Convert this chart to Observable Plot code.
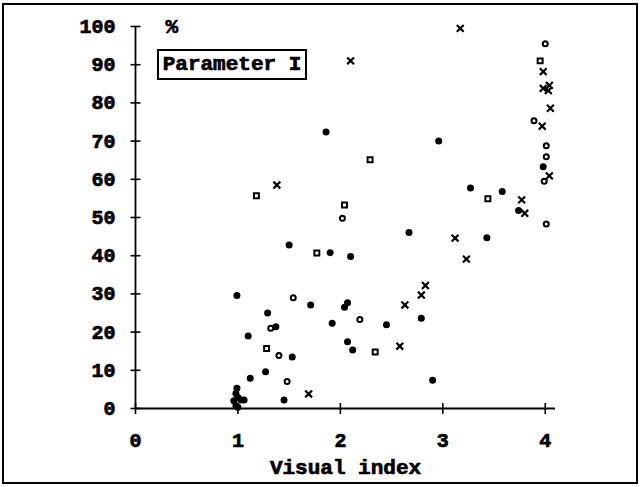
<!DOCTYPE html>
<html>
<head>
<meta charset="utf-8">
<script src="https://cdn.jsdelivr.net/npm/d3@7"></script>
<script src="https://cdn.jsdelivr.net/npm/@observablehq/plot@0.6"></script>
<style>
  html, body { margin: 0; padding: 0; background: #fff; }
  #wrap { position: relative; width: 641px; height: 487px; overflow: hidden; }
  #frame { position: absolute; left: 2px; top: 3px; width: 636px; height: 481px; border: 2px solid #000; box-sizing: border-box; pointer-events: none; }
  #param { position: absolute; left: 157px; top: 49px; width: 150px; height: 31px; border: 2px solid #000; box-sizing: border-box;
           font: bold 21px "Liberation Mono", "DejaVu Sans Mono", monospace; line-height: 27px; text-align: center; white-space: nowrap;
           -webkit-text-stroke: 0.7px #000; }
  #chart svg text { stroke: #000; stroke-width: 0.7px; }
</style>
</head>
<body>
<div id="wrap"><div id="chart"></div><div id="param">Parameter I</div><div id="frame"></div></div>
<script>
// Filled circles
const filledX = [0.99,1.10,1.12,1.29,1.27,1.37,1.50,1.53,1.45,1.71,1.86,1.90,1.92,2.10,2.07,2.04,2.07,2.12,2.45,2.67,2.79,2.90,2.96,3.27,3.43,3.58,3.74,3.98,
                 0.99,0.98,1.03,1.06,0.96,1.00,0.98,1.00];
const filledY = [29.6,19.0,7.9,25.0,9.6,21.4,42.8,13.5,2.2,27.1,72.4,40.8,22.3,39.8,27.7,26.5,17.5,15.3,21.9,46.1,23.6,7.4,70.0,57.7,44.7,56.8,51.8,63.3,
                 5.3,3.9,2.2,2.2,2.0,2.9,0.7,0.3];
// Open circles
const openX = [1.32,1.40,1.54,1.48,2.02,2.19,3.89,4.00,4.01,4.01,3.99,4.01];
const openY = [21.0,13.9,29.0,7.1,49.8,23.3,75.3,95.5,68.8,65.9,59.5,48.3];
// Open squares
const squareX = [1.18,1.28,1.77,2.04,2.29,2.34,3.44,3.95];
const squareY = [55.7,15.7,40.7,53.3,65.1,14.8,54.9,91.0];
// Crosses
const crossX = [1.38,2.10,1.69,3.17,2.58,2.63,2.79,2.83,3.12,3.23,3.77,3.80,3.98,3.98,4.04,4.03,4.05,3.97,4.04];
const crossY = [58.5,91.0,3.8,99.5,16.3,27.1,29.7,32.2,44.6,39.1,54.6,51.1,88.2,83.8,84.6,83.2,78.6,73.9,60.9];

const xTicks = [0,1,2,3,4];
const yTicks = [0,10,20,30,40,50,60,70,80,90,100];
const xDomain = [0, 4.1];
const yDomain = [0, 100];

const pts = (xs, ys) => xs.map((x, i) => ({x, y: ys[i]}));
const filled = pts(filledX, filledY);
const open = pts(openX, openY);
const squares = pts(squareX, squareY);
const crosses = pts(crossX, crossY);

const hTick = {draw(ctx, size) { const r = Math.sqrt(size / Math.PI); ctx.moveTo(-r, 0); ctx.lineTo(r, 0); }};
const vTick = {draw(ctx, size) { const r = Math.sqrt(size / Math.PI); ctx.moveTo(0, -r); ctx.lineTo(0, r); }};

const chart = Plot.plot({
  width: 641,
  height: 487,
  marginLeft: 135,
  marginRight: 86,
  marginTop: 26,
  marginBottom: 79,
  style: {fontFamily: "'Liberation Mono', 'DejaVu Sans Mono', monospace", fontWeight: "bold", fontSize: "20px", color: "#000", background: "#fff"},
  x: {domain: xDomain},
  y: {domain: yDomain},
  marks: [
    Plot.ruleY([0], {x1: xDomain[0], x2: xDomain[1], stroke: "#000", strokeWidth: 1.8}),
    Plot.ruleX([0], {y1: yDomain[0], y2: yDomain[1], stroke: "#000", strokeWidth: 1.8}),
    Plot.dot(yTicks, {x: 0, y: d => d, symbol: hTick, r: 5, stroke: "#000", strokeWidth: 1.6, fill: "none"}),
    Plot.dot(xTicks, {x: d => d, y: 0, symbol: vTick, r: 5.5, stroke: "#000", strokeWidth: 1.6, fill: "none"}),
    Plot.axisX({ticks: xTicks, tickSize: 0, tickPadding: 24, tickFormat: d => String(d), label: null, fontSize: 20}),
    Plot.axisY({ticks: yTicks, tickSize: 0, tickPadding: 20, tickFormat: d => String(d), label: null, fontSize: 20}),
    Plot.text(["Visual index"], {frameAnchor: "bottom", dy: 59, lineAnchor: "middle", text: d => d, fontSize: 21, fontWeight: "bold"}),
    Plot.text(["%"], {frameAnchor: "top-left", dx: 30, dy: 0, lineAnchor: "middle", text: d => d, fontSize: 21, fontWeight: "bold"}),
    Plot.dot(filled, {x: "x", y: "y", r: 3.5, fill: "#000", stroke: "none"}),
    Plot.dot(open, {x: "x", y: "y", r: 2.5, fill: "#fff", stroke: "#000", strokeWidth: 2}),
    Plot.dot(squares, {x: "x", y: "y", symbol: "square", r: 2.8, fill: "#fff", stroke: "#000", strokeWidth: 2}),
    Plot.dot(crosses, {x: "x", y: "y", symbol: "times", r: 3.2, fill: "none", stroke: "#000", strokeWidth: 2.2})
  ]
});
document.getElementById("chart").appendChild(chart);
</script>
</body>
</html>
